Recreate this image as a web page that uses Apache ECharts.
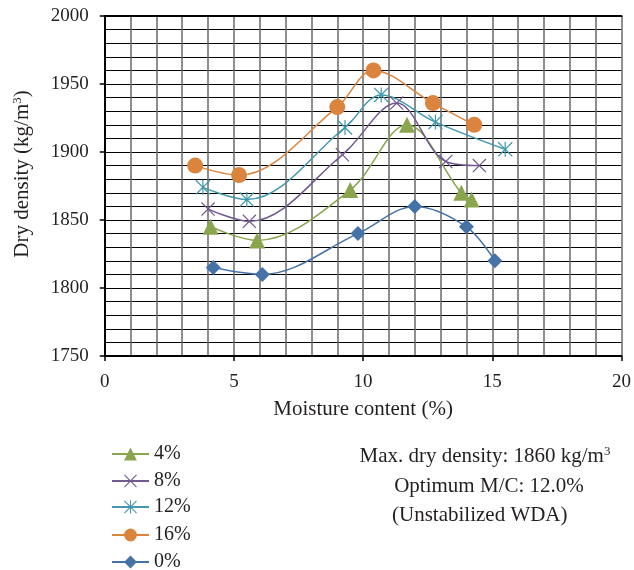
<!DOCTYPE html>
<html>
<head>
<meta charset="utf-8">
<script src="https://cdn.jsdelivr.net/npm/echarts@6/dist/echarts.min.js"></script>
<style>
  html, body { margin: 0; padding: 0; background: #fff; }
  #chart { width: 634px; height: 570px; }
</style>
</head>
<body>
<div id="chart"></div>
<script>
// Compaction curves: moisture content (%) vs dry density (kg/m3)
const seriesNames = ['4%', '8%', '12%', '16%', '0%'];

const moisture4 = [4.1, 5.9, 9.5, 11.7, 13.8, 14.2];
const density4  = [1845, 1835, 1872, 1920, 1870, 1865];

const moisture8 = [4.0, 5.6, 9.2, 11.3, 13.2, 14.5];
const density8  = [1858, 1849, 1898, 1936, 1893, 1890];

const moisture12 = [3.8, 5.5, 9.3, 10.7, 12.8, 15.5];
const density12  = [1874, 1865, 1918, 1942, 1922, 1902];

const moisture16 = [3.5, 5.2, 9.0, 10.4, 12.7, 14.3];
const density16  = [1890, 1883, 1933, 1960, 1936, 1920];

const moisture0 = [4.2, 6.1, 9.8, 12.0, 14.0, 15.1];
const density0  = [1815, 1810, 1840, 1860, 1845, 1820];

const xTicks = [0, 5, 10, 15, 20];
const yTicks = [1750, 1800, 1850, 1900, 1950, 2000];

const xTitle = 'Moisture content (%)';
const yTitle = 'Dry density (kg/m';
const noteLines = ['Max. dry density: 1860 kg/m', 'Optimum M/C: 12.0%', '(Unstabilized WDA)'];

const SERIF = '"Liberation Serif", "DejaVu Serif", serif';
const INK = '#231f20';

const pairs = (xs, ys) => xs.map((x, i) => [x, ys[i]]);

// Thin-stroke glyphs built as filled outlines
const crossPath = 'path://M0,6 L6,0 L50,44 L94,0 L100,6 L56,50 L100,94 L94,100 L50,56 L6,100 L0,94 L44,50 Z';
const starPath = 'path://M0,6 L6,0 L50,44 L94,0 L100,6 L56,50 L100,94 L94,100 L50,56 L6,100 L0,94 L44,50 Z M46,0 L54,0 L54,100 L46,100 Z';

const colors = {
  '4%': '#89A54E',
  '8%': '#71588F',
  '12%': '#4198AF',
  '16%': '#DB843D',
  '0%': '#4572A7'
};

function makeSeries(name, xs, ys, symbol, size) {
  return {
    name: name,
    type: 'line',
    data: pairs(xs, ys),
    smooth: 0.35,
    symbol: symbol,
    symbolSize: size,
    showAllSymbol: true,
    lineStyle: { color: colors[name], width: 1.5 },
    itemStyle: { color: colors[name] },
    emphasis: { disabled: true },
    z: 3
  };
}

const supRich = (size) => ({
  a: { fontFamily: SERIF, fontSize: size, color: INK, fill: INK },
  s: { fontFamily: SERIF, fontSize: 13, color: INK, fill: INK, verticalAlign: 'top', padding: [0, 0, 9, 0] }
});

const legendTops = [439, 466, 492, 520, 547];

const chart = echarts.init(document.getElementById('chart'), null, { renderer: 'canvas' });

const option = {
  animation: false,
  backgroundColor: '#fff',
  grid: { left: 104.7, right: 9, top: 16, bottom: 214, containLabel: false },
  xAxis: [{
    type: 'value',
    min: xTicks[0],
    max: xTicks[xTicks.length - 1],
    interval: 5,
    name: xTitle,
    nameLocation: 'middle',
    nameGap: 43,
    nameTextStyle: { fontFamily: SERIF, fontSize: 21, color: INK },
    axisLine: { show: true, onZero: false, lineStyle: { color: '#000', width: 2 } },
    axisTick: { show: true, inside: false, length: 5, lineStyle: { color: '#000', width: 1.5 } },
    axisLabel: { margin: 17, fontFamily: SERIF, fontSize: 19, color: INK },
    splitLine: { show: true, lineStyle: { color: '#6a6a6a', width: 1.5 } },
    minorTick: { show: false, splitNumber: 5 },
    minorSplitLine: { show: true, lineStyle: { color: '#6a6a6a', width: 1.5 } }
  }, {
    type: 'value',
    position: 'top',
    min: 0, max: 20,
    axisLine: { show: true, lineStyle: { color: '#000', width: 2 } },
    axisTick: { show: false },
    axisLabel: { show: false },
    splitLine: { show: false }
  }],
  yAxis: [{
    type: 'value',
    min: yTicks[0],
    max: yTicks[yTicks.length - 1],
    interval: 50,
    axisLine: { show: true, onZero: false, lineStyle: { color: '#000', width: 2 } },
    axisTick: { show: true, inside: false, length: 5, lineStyle: { color: '#000', width: 1.5 } },
    axisLabel: { margin: 16, fontFamily: SERIF, fontSize: 19, color: INK, formatter: (v) => String(v) },
    splitLine: { show: true, lineStyle: { color: '#000', width: 1 } },
    minorTick: { show: false, splitNumber: 5 },
    minorSplitLine: { show: true, lineStyle: { color: '#000', width: 1 } }
  }, {
    type: 'value',
    position: 'right',
    min: 1750, max: 2000,
    axisLine: { show: true, lineStyle: { color: '#000', width: 2 } },
    axisTick: { show: false },
    axisLabel: { show: false },
    splitLine: { show: false }
  }],
  legend: seriesNames.map((n, i) => ({
    data: [n],
    orient: 'vertical',
    left: 106,
    top: legendTops[i],
    itemWidth: 37,
    itemHeight: 16,
    itemGap: 0,
    selectedMode: false,
    textStyle: { fontFamily: SERIF, fontSize: 20, color: INK }
  })),
  graphic: [
    {
      type: 'text',
      x: 22, y: 174,
      rotation: Math.PI / 2,
      style: {
        text: '{a|' + yTitle + '}{s|3}{a|)}',
        align: 'center', verticalAlign: 'middle',
        rich: supRich(21)
      }
    },
    {
      type: 'text',
      x: 485, y: 456,
      style: {
        text: '{a|' + noteLines[0] + '}{s|3}',
        align: 'center', verticalAlign: 'middle',
        rich: supRich(21)
      }
    },
    {
      type: 'text',
      x: 489, y: 486,
      style: { text: noteLines[1], align: 'center', verticalAlign: 'middle', font: '21px ' + SERIF, fill: INK }
    },
    {
      type: 'text',
      x: 392, y: 515,
      style: { text: noteLines[2], align: 'left', verticalAlign: 'middle', font: '21px ' + SERIF, fill: INK }
    }
  ],
  series: [
    makeSeries('0%', moisture0, density0, 'diamond', 15),
    makeSeries('4%', moisture4, density4, 'triangle', 16),
    makeSeries('8%', moisture8, density8, crossPath, 14),
    makeSeries('12%', moisture12, density12, starPath, 15),
    makeSeries('16%', moisture16, density16, 'circle', 16)
  ]
};

chart.setOption(option);
</script>
</body>
</html>
